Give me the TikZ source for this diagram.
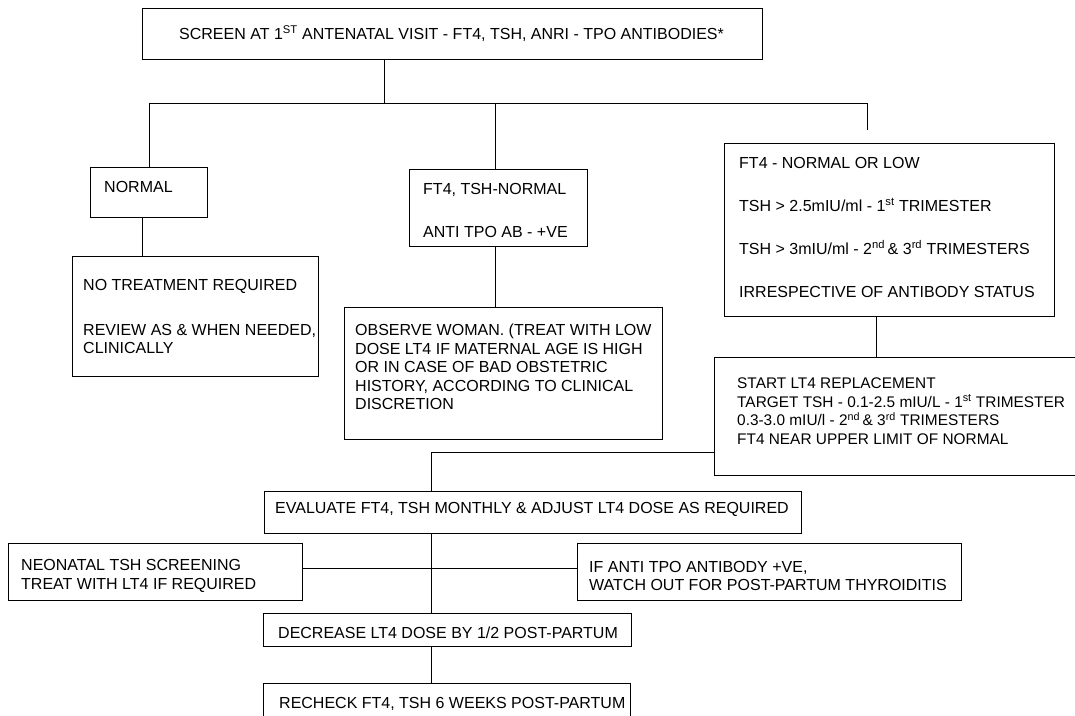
\documentclass[tikz,border=0pt]{standalone}
\usepackage{fontspec}
\setmainfont{Liberation Sans}
\usepackage{tikz}

\begin{document}
\begin{tikzpicture}[x=1pt, y=-1pt,
  box/.style={draw, line width=0.9pt, anchor=north west, inner sep=0pt},
  txt/.style={anchor=west, align=left, inner sep=0pt, font=\fontsize{16}{18.5}\selectfont},
  link/.style={line width=0.9pt}]
\path[use as bounding box, fill=white] (0,0) rectangle (1075,715);
\clip (0,0) rectangle (1075,715);

% Screening at first visit
\node[box, minimum width=620pt, minimum height=51pt,
  label={[txt, xshift=37pt]west:{SCREEN AT 1\textsuperscript{ST} ANTENATAL VISIT - FT4, TSH, ANRI - TPO ANTIBODIES*}}] (screen) at (142,8) {};

% Three outcomes
\node[box, minimum width=117pt, minimum height=50pt,
  label={[txt, xshift=14pt, yshift=5pt]west:NORMAL}] (normal) at (90,167) {};
\node[box, minimum width=178pt, minimum height=77pt,
  label={[txt, xshift=14pt, yshift=-3pt]west:{FT4, TSH-NORMAL\\[24.5pt]ANTI TPO AB - +VE}}] (ft4tsh) at (409,169) {};
\node[box, minimum width=330pt, minimum height=173pt,
  label={[txt, xshift=15pt, yshift=2pt]west:{FT4 - NORMAL OR LOW\\[24.5pt]TSH > 2.5mIU/ml - 1\textsuperscript{st} TRIMESTER\\[24.5pt]TSH > 3mIU/ml - 2\textsuperscript{nd}\,\& 3\textsuperscript{rd} TRIMESTERS\\[24.5pt]IRRESPECTIVE OF ANTIBODY STATUS}}] (ft4low) at (724,143) {};

% What to do next
\node[box, minimum width=246pt, minimum height=120pt,
  label={[txt, xshift=11pt]west:{NO TREATMENT REQUIRED\\[26.5pt]REVIEW AS \& WHEN NEEDED,\\CLINICALLY}}] (notreat) at (72,256) {};
\node[box, minimum width=318pt, minimum height=132pt,
  label={[txt, xshift=11pt, yshift=6.5pt]west:{OBSERVE WOMAN. (TREAT WITH LOW\\DOSE LT4 IF MATERNAL AGE IS HIGH\\OR IN CASE OF BAD OBSTETRIC\\HISTORY, ACCORDING TO CLINICAL\\DISCRETION}}] (observe) at (344,307) {};
\node[box, minimum width=400pt, minimum height=118pt,
  label={[txt, xshift=23pt, yshift=5.5pt, font=\fontsize{15.4}{18.5}\selectfont]west:{START LT4 REPLACEMENT\\TARGET TSH - 0.1-2.5 mIU/L - 1\textsuperscript{st} TRIMESTER\\0.3-3.0 mIU/l - 2\textsuperscript{nd}\,\& 3\textsuperscript{rd} TRIMESTERS\\FT4 NEAR UPPER LIMIT OF NORMAL}}] (start) at (714,357) {};

% Follow-up chain
\node[box, minimum width=537pt, minimum height=42pt,
  label={[txt, xshift=11pt, yshift=3pt]west:{EVALUATE FT4, TSH MONTHLY \& ADJUST LT4 DOSE AS REQUIRED}}] (evaluate) at (264,491) {};
\node[box, minimum width=294pt, minimum height=57pt,
  label={[txt, xshift=13pt, yshift=-4pt]west:{NEONATAL TSH SCREENING\\TREAT WITH LT4 IF REQUIRED}}] (neonatal) at (8,543) {};
\node[box, minimum width=384pt, minimum height=57pt,
  label={[txt, xshift=12pt, yshift=-4pt]west:{IF ANTI TPO ANTIBODY +VE,\\WATCH OUT FOR POST-PARTUM THYROIDITIS}}] (ifanti) at (577,543) {};
\node[box, minimum width=368pt, minimum height=33pt,
  label={[txt, xshift=15pt, yshift=-2.5pt]west:{DECREASE LT4 DOSE BY 1/2 POST-PARTUM}}] (decrease) at (263,613) {};
\node[box, minimum width=367pt, minimum height=40pt,
  label={[txt, xshift=16pt]west:{RECHECK FT4, TSH 6 WEEKS POST-PARTUM}}] (recheck) at (263,683) {};

% Connectors
\coordinate (split) at (384,103);
\coordinate (rgt) at (867,130);
\coordinate (join) at (431,452);
\coordinate (nrm) at ([xshift=-7pt]normal.south);
\coordinate (mid) at ([xshift=-3pt]ft4tsh.north);
\coordinate (midb) at ([xshift=-3pt]ft4tsh.south);
\coordinate (low) at ([xshift=-13pt]ft4low.south);
\coordinate (nn) at ([yshift=4pt]neonatal.east);

\draw[link] (screen.south -| split) -- (split);
\draw[link] (normal.north) |- (rgt |- split) -- (rgt);
\draw[link] (mid) -- (mid |- split);
\draw[link] (nrm) -- (nrm |- notreat.north);
\draw[link] (midb) -- (midb |- observe.north);
\draw[link] (low) -- (low |- start.north);
\draw[link] (join -| start.west) -- (join) -- (join |- evaluate.north);
\draw[link] (join |- evaluate.south) -- (join |- decrease.north);
\draw[link] (nn) -- (nn -| ifanti.west);
\draw[link] (join |- decrease.south) -- (join |- recheck.north);

\end{tikzpicture}
\end{document}
